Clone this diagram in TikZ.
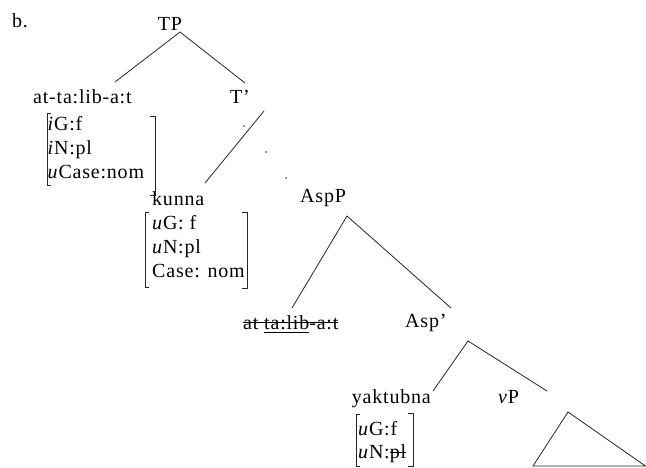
\documentclass[tikz,border=0pt]{standalone}
\usepackage{fontspec}
\setmainfont{Liberation Serif}[LetterSpace=4]
\newcommand\strk[2][5.5pt]{\setbox0\hbox{#2}\rlap{\rule[#1]{\wd0}{0.7pt}}\box0}
\newcommand\ulin[1]{\setbox2\hbox{#1}\rlap{\rule[-3.8pt]{\wd2}{0.7pt}}\box2}
\begin{document}
\begin{tikzpicture}[x=1pt,y=-1pt,
  lbl/.style={inner sep=0pt,font=\fontsize{20}{24}\selectfont},
  branch/.style={line width=0.8pt,black!85},
  brk/.style={line width=0.9pt,black!85}]
\fill[white] (0,0) rectangle (646,467);
\useasboundingbox (0,0) rectangle (646,467);
% labels
\node[lbl,anchor=base west] (ex) at (12,27) {b.};
\node[lbl,anchor=base] (tp) at (170,30) {TP};
\node[lbl,anchor=base west] (subj) at (33,103) {at-ta:lib-a:t};
\node[lbl,anchor=base] (tbar) at (240,103) {T'};
\node[lbl,anchor=base west] (kunna) at (152,205) {kunna};
\node[lbl,anchor=base west] (aspp) at (300,202) {AspP};
\node[lbl,anchor=base west] (copy) at (243,329) {\strk[6pt]{at \ulin{ta:lib}-a:t}};
\node[lbl,anchor=base west] (aspbar) at (405,327) {Asp'};
\node[lbl,anchor=base east] (yak) at (431,403) {yaktubna};
\node[lbl,anchor=base west] (vp) at (498,403) {\textit{v}P};
% feature lists
\node[lbl,anchor=base west] (f1a) at (47.5,130) {\textit{i}G:f};
\node[lbl,anchor=base west] (f1b) at (47.5,154) {\textit{i}N:pl};
\node[lbl,anchor=base west] (f1c) at (47.5,178) {\textit{u}Case:nom};
\node[lbl,anchor=base west] (f2a) at (152,229.5) {\textit{u}G: f};
\node[lbl,anchor=base west] (f2b) at (152,253.5) {\textit{u}N:pl};
\node[lbl,anchor=base west] (f2c) at (152,277) {Case: nom};
\node[lbl,anchor=base west] (f3a) at (358,435) {\textit{u}G:f};
\node[lbl,anchor=base west] (f3b) at (358,458) {\textit{u}N:\strk{pl}};
% brackets
\draw[brk] (51,113) -- (47,113) -- (47,185) -- (51,185);
\draw[brk] (150,116) -- (155,116) -- (155,195) -- (150,195);
\draw[brk] (149,212) -- (145,212) -- (145,287) -- (149,287);
\draw[brk] (242,212) -- (247,212) -- (247,288) -- (242,288);
\draw[brk] (360,414) -- (356,414) -- (356,466) -- (360,466);
\draw[brk] (408,413) -- (413,413) -- (413,466) -- (408,466);
% branch points
\coordinate (tpB) at (180,32);
\coordinate (tpL) at (115,82);
\coordinate (tpR) at (245,83);
\coordinate (tbB) at (264,111);
\coordinate (tbL) at (205,183);
\coordinate (apB) at (347,216);
\coordinate (apL) at (292,308);
\coordinate (apR) at (451,308);
\coordinate (abB) at (468,341);
\coordinate (abL) at (433,391);
\coordinate (abR) at (547,391);
\coordinate (vpT) at (568,412);
\coordinate (vpL) at (533,466);
\coordinate (vpR) at (645.5,466);
\draw[branch] (tpL) -- (tpB) -- (tpR);
\draw[branch] (tbB) -- (tbL);
\draw[branch] (apL) -- (apB) -- (apR);
\draw[branch] (abL) -- (abB) -- (abR);
\draw[branch] (vpL) -- (vpT) -- (vpR) -- cycle;
% dots
\fill[black!80] (244,126) circle (0.8) (266,152) circle (0.8) (286,178) circle (0.8);
\end{tikzpicture}
\end{document}
